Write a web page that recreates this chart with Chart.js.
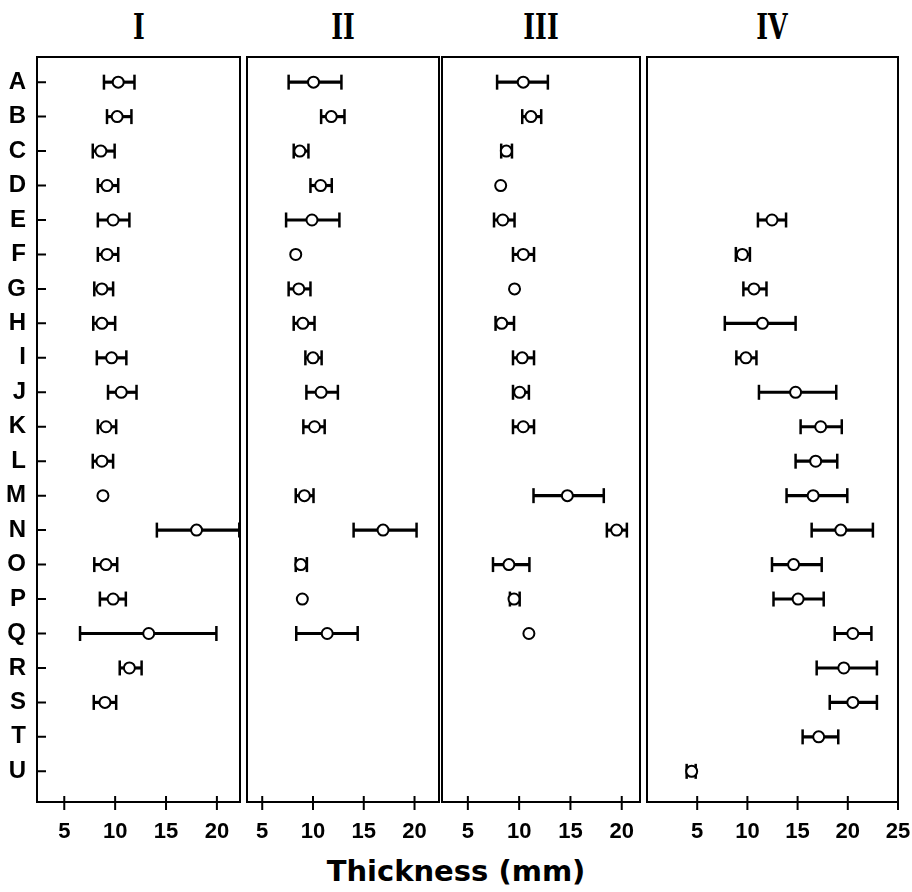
<!DOCTYPE html>
<html>
<head>
<meta charset="utf-8">
<script src="https://cdn.jsdelivr.net/npm/chart.js@4.4.0/dist/chart.umd.min.js"></script>
<style>
  body { margin: 0; background: #fff; }
  #wrap { position: relative; width: 912px; height: 892px; overflow: hidden; background: #fff; }
  #wrap canvas { position: absolute; top: 0; }
  .ttl { position: absolute; top: 8px; font: bold 36px "DejaVu Serif"; line-height: 36px; color: #000;
         transform: translateX(-50%) scaleX(0.7); white-space: nowrap; }
  #xtitle { position: absolute; left: 456px; top: 857px; font: bold 29px "DejaVu Sans"; line-height: 29px;
            color: #000; transform: translateX(-50%); white-space: nowrap; }
</style>
</head>
<body>
<div id="wrap">
  <div class="ttl" style="left:139px">I</div>
  <div class="ttl" style="left:343px">II</div>
  <div class="ttl" style="left:541px">III</div>
  <div class="ttl" style="left:772px">IV</div>
  <div id="xtitle">Thickness (mm)</div>
</div>
<script>
const categories = ['A','B','C','D','E','F','G','H','I','J','K','L','M','N','O','P','Q','R','S','T','U'];
const ticksI = [5, 10, 15, 20];
const ticksIV = [5, 10, 15, 20, 25];

// panel I
const meanI = [10.3, 10.2, 8.6, 9.2, 9.8, 9.2, 8.7, 8.7, 9.65, 10.6, 9.1, 8.7, 8.8, 18.0, 9.1, 9.8, 13.3, 11.4, 9.0, null, null];
const lowI  = [8.9, 9.2, 7.8, 8.3, 8.3, 8.3, 7.95, 7.85, 8.2, 9.3, 8.3, 7.8, null, 14.1, 7.95, 8.5, 6.55, 10.45, 7.9, null, null];
const highI = [11.9, 11.6, 9.95, 10.3, 11.4, 10.3, 9.8, 10.0, 11.1, 12.1, 10.1, 9.8, null, 22.2, 10.2, 11.05, 19.95, 12.6, 10.1, null, null];

// panel II
const meanII = [10.05, 11.8, 8.7, 10.75, 9.9, 8.3, 8.6, 9.0, 10.0, 10.8, 10.15, null, 9.15, 16.9, 8.8, 8.95, 11.4, null, null, null, null];
const lowII  = [7.6, 10.8, 8.1, 9.75, 7.35, null, 7.6, 8.1, 9.25, 9.35, 9.05, null, 8.3, 14.0, 8.3, null, 8.35, null, null, null, null];
const highII = [12.8, 13.1, 9.55, 11.85, 12.6, null, 9.75, 10.15, 10.85, 12.45, 11.15, null, 10.05, 20.2, 9.4, null, 14.4, null, null, null, null];

// panel III
const meanIII = [10.4, 11.15, 8.75, 8.2, 8.4, 10.4, 9.55, 8.3, 10.3, 10.05, 10.4, null, 14.7, 19.5, 9.0, 9.5, 10.95, null, null, null, null];
const lowIII  = [7.85, 10.3, 8.25, null, 7.55, 9.4, null, 7.7, 9.4, 9.4, 9.4, null, 11.4, 18.55, 7.45, 9.1, null, null, null, null, null];
const highIII = [12.8, 12.15, 9.3, null, 9.55, 11.45, null, 9.5, 11.45, 10.95, 11.45, null, 18.25, 20.5, 11.0, 10.05, null, null, null, null, null];

// panel IV
const meanIV = [null, null, null, null, 12.45, 9.5, 10.65, 11.5, 9.85, 14.8, 17.3, 16.8, 16.55, 19.3, 14.6, 15.05, 20.5, 19.6, 20.5, 17.1, 4.45];
const lowIV  = [null, null, null, null, 11.05, 8.85, 9.6, 7.75, 8.9, 11.15, 15.3, 14.8, 13.9, 16.4, 12.45, 12.6, 18.7, 16.9, 18.2, 15.5, 3.95];
const highIV = [null, null, null, null, 13.85, 10.25, 11.9, 14.8, 10.9, 18.85, 19.4, 18.95, 19.95, 22.5, 17.4, 17.6, 22.35, 22.9, 22.9, 19.05, 4.85];

const panels = [
  {mean: meanI, low: lowI, high: highI, ticks: ticksI, min: 2.32, max: 22.27, left: 37, right: 240, labels: true},
  {mean: meanII, low: lowII, high: highII, ticks: ticksI, min: 3.5, max: 22.41, left: 247, right: 439},
  {mean: meanIII, low: lowIII, high: highIII, ticks: ticksI, min: 2.48, max: 21.78, left: 442, right: 640},
  {mean: meanIV, low: lowIV, high: highIV, ticks: ticksIV, min: 0, max: 25, left: 647, right: 898, padR: 14}
];

// box round the plot, ticks crossing the bottom, letter ticks inside on the left
const frame = {
  id: 'frame',
  beforeDatasetsDraw(chart, args, opts) {
    const {ctx, chartArea: a, scales} = chart;
    ctx.save();
    ctx.strokeStyle = '#000';
    ctx.lineWidth = 2;
    ctx.strokeRect(a.left, a.top, a.right - a.left, a.bottom - a.top);
    ctx.beginPath();
    scales.x.ticks.forEach(t => {
      const px = scales.x.getPixelForValue(t.value);
      ctx.moveTo(px, a.bottom - 6);
      ctx.lineTo(px, a.bottom + 8);
    });
    if (opts.yTicks) {
      scales.y.ticks.forEach(t => {
        const py = scales.y.getPixelForValue(t.value);
        ctx.moveTo(a.left, py);
        ctx.lineTo(a.left + 9, py);
      });
    }
    ctx.stroke();
    ctx.restore();
  }
};

const wrap = document.getElementById('wrap');

panels.forEach(p => {
  const padL = p.labels ? 0 : 4;
  const padR = p.padR || 4;
  const x0 = p.labels ? 0 : p.left - padL;
  const w = p.right + padR - x0;
  const cv = document.createElement('canvas');
  cv.width = w; cv.height = 892;
  cv.style.left = x0 + 'px';
  cv.style.width = w + 'px';
  cv.style.height = '892px';
  wrap.appendChild(cv);

  const bars = [], caps = [], pts = [];
  categories.forEach((c, i) => {
    if (p.mean[i] != null) pts.push({x: p.mean[i], y: i});
    if (p.low[i] != null) {
      bars.push({x: [p.low[i], p.high[i]], y: i});
      caps.push({x: p.low[i], y: i}, {x: p.high[i], y: i});
    }
  });

  new Chart(cv, {
    type: 'scatter',
    data: {
      datasets: [
        {type: 'bar', indexAxis: 'y', data: bars, backgroundColor: '#000', borderWidth: 0, barThickness: 2.5, order: 3},
        {data: caps, pointStyle: 'line', rotation: 90, radius: 7.5, borderColor: '#000', borderWidth: 2.5, order: 2},
        {data: pts, pointStyle: 'circle', radius: 5.5, borderWidth: 2, borderColor: '#000', backgroundColor: '#fff', order: 1}
      ]
    },
    options: {
      responsive: false,
      animation: false,
      events: [],
      layout: {autoPadding: false, padding: {left: padL, right: padR, top: 57, bottom: 0}},
      plugins: {
        legend: {display: false},
        tooltip: {enabled: false},
        frame: {yTicks: !!p.labels}
      },
      scales: {
        x: {
          type: 'linear', min: p.min, max: p.max, offset: false,
          grid: {display: false, drawTicks: true, tickLength: 17, offset: false},
          border: {display: false},
          afterBuildTicks: s => { s.ticks = p.ticks.map(v => ({value: v})); },
          afterFit: s => { s.height = 90; },
          ticks: {padding: 0, color: '#000', font: {family: 'Liberation Sans', size: 22, weight: 'bold'}}
        },
        y: {
          type: 'linear', reverse: true, min: -0.73, max: 20.89, offset: false,
          display: !!p.labels,
          grid: {display: false, drawTicks: false, offset: false},
          border: {display: false},
          afterBuildTicks: s => { s.ticks = categories.map((c, i) => ({value: i})); },
          afterFit: s => { s.width = p.labels ? 37 : 0; },
          ticks: {
            padding: 11, autoSkip: false, color: '#000',
            font: {family: 'Liberation Sans', size: 24, weight: 'bold'},
            callback: v => categories[v]
          }
        }
      }
    },
    plugins: [frame]
  });
});
</script>
</body>
</html>
